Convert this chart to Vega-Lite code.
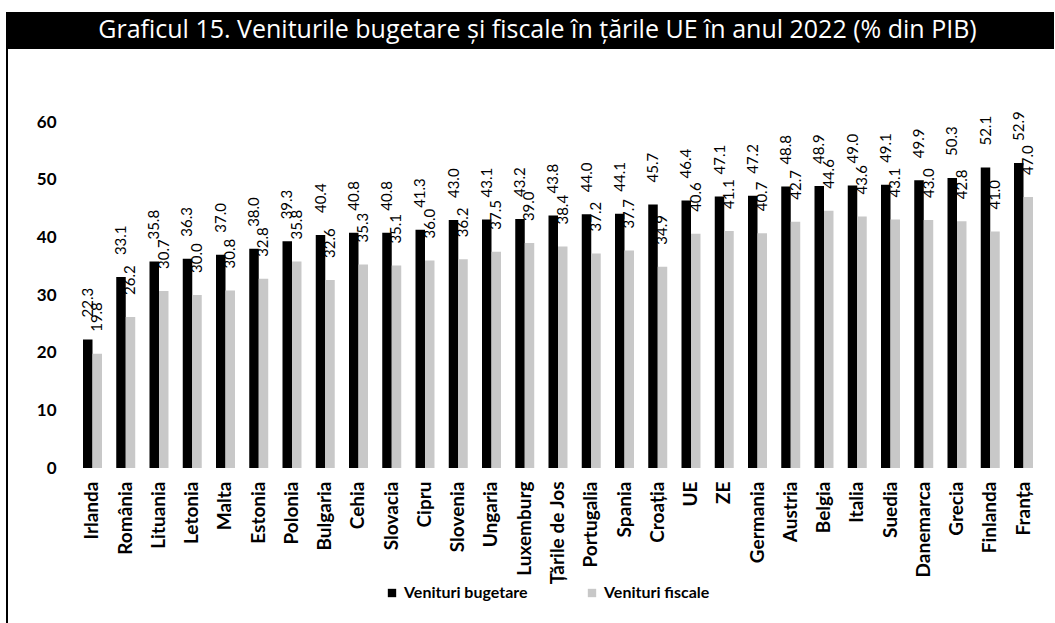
{
  "$schema": "https://vega.github.io/schema/vega-lite/v6.json",
  "width": 950,
  "height": 346,
  "padding": {"left": 6, "top": 11, "right": 0, "bottom": 0},
  "background": "white",
  "config": {"view": {"stroke": null}, "font": "Lato"},
  "data": {"values": [
    {"tara": "Irlanda", "serie": "Venituri bugetare", "valoare": 22.3},
    {"tara": "Irlanda", "serie": "Venituri fiscale", "valoare": 19.8},
    {"tara": "România", "serie": "Venituri bugetare", "valoare": 33.1},
    {"tara": "România", "serie": "Venituri fiscale", "valoare": 26.2},
    {"tara": "Lituania", "serie": "Venituri bugetare", "valoare": 35.8},
    {"tara": "Lituania", "serie": "Venituri fiscale", "valoare": 30.7},
    {"tara": "Letonia", "serie": "Venituri bugetare", "valoare": 36.3},
    {"tara": "Letonia", "serie": "Venituri fiscale", "valoare": 30.0},
    {"tara": "Malta", "serie": "Venituri bugetare", "valoare": 37.0},
    {"tara": "Malta", "serie": "Venituri fiscale", "valoare": 30.8},
    {"tara": "Estonia", "serie": "Venituri bugetare", "valoare": 38.0},
    {"tara": "Estonia", "serie": "Venituri fiscale", "valoare": 32.8},
    {"tara": "Polonia", "serie": "Venituri bugetare", "valoare": 39.3},
    {"tara": "Polonia", "serie": "Venituri fiscale", "valoare": 35.8},
    {"tara": "Bulgaria", "serie": "Venituri bugetare", "valoare": 40.4},
    {"tara": "Bulgaria", "serie": "Venituri fiscale", "valoare": 32.6},
    {"tara": "Cehia", "serie": "Venituri bugetare", "valoare": 40.8},
    {"tara": "Cehia", "serie": "Venituri fiscale", "valoare": 35.3},
    {"tara": "Slovacia", "serie": "Venituri bugetare", "valoare": 40.8},
    {"tara": "Slovacia", "serie": "Venituri fiscale", "valoare": 35.1},
    {"tara": "Cipru", "serie": "Venituri bugetare", "valoare": 41.3},
    {"tara": "Cipru", "serie": "Venituri fiscale", "valoare": 36.0},
    {"tara": "Slovenia", "serie": "Venituri bugetare", "valoare": 43.0},
    {"tara": "Slovenia", "serie": "Venituri fiscale", "valoare": 36.2},
    {"tara": "Ungaria", "serie": "Venituri bugetare", "valoare": 43.1},
    {"tara": "Ungaria", "serie": "Venituri fiscale", "valoare": 37.5},
    {"tara": "Luxemburg", "serie": "Venituri bugetare", "valoare": 43.2},
    {"tara": "Luxemburg", "serie": "Venituri fiscale", "valoare": 39.0},
    {"tara": "Țările de Jos", "serie": "Venituri bugetare", "valoare": 43.8},
    {"tara": "Țările de Jos", "serie": "Venituri fiscale", "valoare": 38.4},
    {"tara": "Portugalia", "serie": "Venituri bugetare", "valoare": 44.0},
    {"tara": "Portugalia", "serie": "Venituri fiscale", "valoare": 37.2},
    {"tara": "Spania", "serie": "Venituri bugetare", "valoare": 44.1},
    {"tara": "Spania", "serie": "Venituri fiscale", "valoare": 37.7},
    {"tara": "Croația", "serie": "Venituri bugetare", "valoare": 45.7},
    {"tara": "Croația", "serie": "Venituri fiscale", "valoare": 34.9},
    {"tara": "UE", "serie": "Venituri bugetare", "valoare": 46.4},
    {"tara": "UE", "serie": "Venituri fiscale", "valoare": 40.6},
    {"tara": "ZE", "serie": "Venituri bugetare", "valoare": 47.1},
    {"tara": "ZE", "serie": "Venituri fiscale", "valoare": 41.1},
    {"tara": "Germania", "serie": "Venituri bugetare", "valoare": 47.2},
    {"tara": "Germania", "serie": "Venituri fiscale", "valoare": 40.7},
    {"tara": "Austria", "serie": "Venituri bugetare", "valoare": 48.8},
    {"tara": "Austria", "serie": "Venituri fiscale", "valoare": 42.7},
    {"tara": "Belgia", "serie": "Venituri bugetare", "valoare": 48.9},
    {"tara": "Belgia", "serie": "Venituri fiscale", "valoare": 44.6},
    {"tara": "Italia", "serie": "Venituri bugetare", "valoare": 49.0},
    {"tara": "Italia", "serie": "Venituri fiscale", "valoare": 43.6},
    {"tara": "Suedia", "serie": "Venituri bugetare", "valoare": 49.1},
    {"tara": "Suedia", "serie": "Venituri fiscale", "valoare": 43.1},
    {"tara": "Danemarca", "serie": "Venituri bugetare", "valoare": 49.9},
    {"tara": "Danemarca", "serie": "Venituri fiscale", "valoare": 43.0},
    {"tara": "Grecia", "serie": "Venituri bugetare", "valoare": 50.3},
    {"tara": "Grecia", "serie": "Venituri fiscale", "valoare": 42.8},
    {"tara": "Finlanda", "serie": "Venituri bugetare", "valoare": 52.1},
    {"tara": "Finlanda", "serie": "Venituri fiscale", "valoare": 41.0},
    {"tara": "Franța", "serie": "Venituri bugetare", "valoare": 52.9},
    {"tara": "Franța", "serie": "Venituri fiscale", "valoare": 47.0}
  ]},
  "resolve": {"scale": {"x": "independent"}, "axis": {"x": "independent"}},
  "layer": [
    {
      "data": {"values": [{}]},
      "layer": [
        {
          "mark": {"type": "rect", "color": "black"},
          "encoding": {
            "x": {"datum": -77, "type": "quantitative", "scale": {"domain": [0, 950], "nice": false, "zero": false}, "axis": null},
            "x2": {"datum": 971},
            "y": {"datum": 72.66, "type": "quantitative", "scale": {"domain": [0, 60], "nice": false, "zero": true}},
            "y2": {"datum": 79.08}
          }
        },
        {
          "mark": {"type": "rule", "color": "black", "strokeWidth": 2},
          "encoding": {
            "x": {"datum": -76, "type": "quantitative"},
            "y": {"datum": 72.66, "type": "quantitative"},
            "y2": {"datum": -27}
          }
        },
        {
          "mark": {"type": "text", "color": "white", "font": "Open Sans", "fontSize": 25, "baseline": "middle", "align": "center", "text": "Graficul 15. Veniturile bugetare și fiscale în țările UE în anul 2022 (% din PIB)"},
          "encoding": {
            "x": {"datum": 454.5, "type": "quantitative"},
            "y": {"datum": 75.87, "type": "quantitative"}
          }
        }
      ]
    },
    {
      "layer": [
        {
          "mark": {"type": "bar"},
          "encoding": {
            "x": {"field": "tara", "type": "nominal", "sort": null,
              "scale": {"paddingInner": 0.4286, "paddingOuter": 0},
              "axis": {"orient": "bottom", "title": null, "labelAngle": -90, "domain": false, "ticks": false, "labelPadding": 13, "labelFont": "Lato", "labelFontSize": 19, "labelFontWeight": "bold", "labelColor": "black"}},
            "xOffset": {"field": "serie", "type": "nominal", "sort": ["Venituri bugetare", "Venituri fiscale"]},
            "y": {"field": "valoare", "type": "quantitative", "scale": {"domain": [0, 60], "nice": false, "zero": true},
              "axis": {"title": null, "values": [0, 10, 20, 30, 40, 50, 60], "offset": 25, "domain": false, "ticks": false, "grid": false, "labelPadding": 2, "labelFont": "Lato", "labelFontSize": 17, "labelFontWeight": "bold", "labelColor": "black"}},
            "color": {"field": "serie", "type": "nominal",
              "scale": {"domain": ["Venituri bugetare", "Venituri fiscale"], "range": ["#000000", "#c8c8c8"]},
              "legend": {"orient": "none", "legendX": 301, "legendY": 463, "direction": "horizontal", "title": null, "symbolType": "square", "symbolSize": 70, "symbolStrokeWidth": 0, "labelFont": "Lato", "labelFontSize": 16, "labelFontWeight": "bold", "labelColor": "black", "columnPadding": 56, "labelOffset": 4}}
          }
        },
        {
          "mark": {"type": "text", "angle": 270, "align": "left", "baseline": "middle", "dx": 22, "font": "Lato", "fontSize": 15, "color": "black"},
          "encoding": {
            "x": {"field": "tara", "type": "nominal", "sort": null},
            "xOffset": {"field": "serie", "type": "nominal", "sort": ["Venituri bugetare", "Venituri fiscale"]},
            "y": {"field": "valoare", "type": "quantitative"},
            "text": {"field": "valoare", "type": "quantitative", "format": ".1f"}
          }
        }
      ]
    }
  ]
}
